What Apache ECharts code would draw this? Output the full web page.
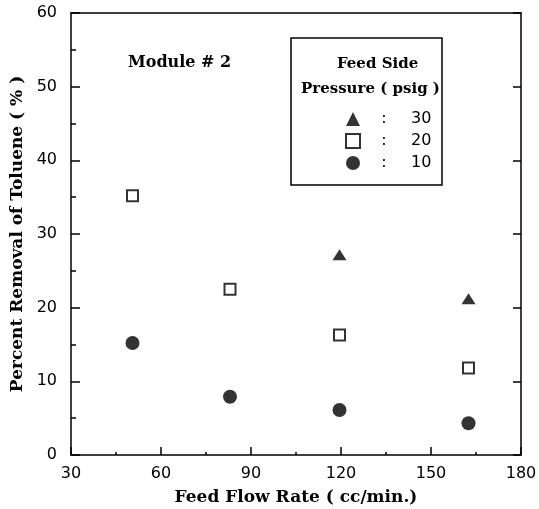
<!DOCTYPE html>
<html><head><meta charset="utf-8">
<script src="https://cdn.jsdelivr.net/npm/echarts@6/dist/echarts.min.js"></script>
<style>html,body{margin:0;padding:0;background:#fff}#c{width:539px;height:509px}</style>
</head><body><div id="c"></div>
<script>
const flowRates = [50.5, 83, 119.5, 162.5];
const removal10 = [15.2, 7.9, 6.1, 4.3];
const removal20 = [35.2, 22.5, 16.3, 11.8];
const flowRates30 = [119.5, 162.5];
const removal30 = [27.2, 21.2];
const pressureNames = ['30', '20', '10'];
const xTitle = 'Feed Flow Rate ( cc/min.)';
const yTitle = 'Percent Removal of Toluene ( % )';
const annotation = 'Module # 2';
const legendTitle = ['Feed Side', 'Pressure ( psig )'];

const pair = (xs, ys) => xs.map((x, i) => [x, ys[i]]);
const serifBold = {fontFamily: 'DejaVu Serif', fontWeight: 'bold', fontSize: 16, color: '#000'};
const serifBold15 = {...serifBold, fontSize: 15};
const sans = {fontFamily: 'DejaVu Sans', fontSize: 16, color: '#000'};
const line = {lineStyle: {color: '#000', width: 1.5}};

const chart = echarts.init(document.getElementById('c'), null, {renderer: 'canvas'});
chart.setOption({
  backgroundColor: '#fff',
  animation: false,
  grid: {left: 71, right: 18, top: 13, bottom: 54, outerBoundsMode: 'none', containLabel: false},
  xAxis: [{
    type: 'value', min: 30, max: 180, interval: 30,
    axisLine: {show: true, ...line},
    axisTick: {show: true, inside: true, length: 8, ...line},
    minorTick: {show: true, splitNumber: 2, length: 3, lineStyle: {color: '#000', width: 1.5}},
    splitLine: {show: false},
    axisLabel: {...sans, margin: 11},
    name: xTitle, nameLocation: 'middle', nameGap: 34,
    nameTextStyle: {...serifBold, fontSize: 17}
  }, {
    type: 'value', position: 'top', min: 30, max: 180, interval: 30,
    axisLine: {show: true, onZero: false, ...line},
    axisTick: {show: false}, minorTick: {show: false}, axisLabel: {show: false}, splitLine: {show: false}
  }],
  yAxis: [{
    type: 'value', min: 0, max: 60, interval: 10,
    axisLine: {show: true, onZero: false, ...line},
    axisTick: {show: true, inside: true, length: 9, ...line},
    minorTick: {show: true, splitNumber: 2, length: 5, lineStyle: {color: '#000', width: 1.5}},
    splitLine: {show: false},
    axisLabel: {...sans, margin: 14},
    name: yTitle, nameLocation: 'middle', nameGap: 42, nameRotate: 90,
    nameTextStyle: {...serifBold, fontSize: 17}
  }, {
    type: 'value', position: 'right', min: 0, max: 60, interval: 10,
    axisLine: {show: true, onZero: false, ...line},
    axisTick: {show: true, inside: true, length: 8, ...line},
    minorTick: {show: false},
    axisLabel: {show: false}, splitLine: {show: false}
  }],
  legend: {
    left: 340, top: 106, orient: 'vertical', padding: 5,
    itemWidth: 14, itemHeight: 14, itemGap: 6,
    data: [
      {name: pressureNames[0], icon: 'triangle', itemStyle: {color: '#000'}},
      {name: pressureNames[1], icon: 'rect', itemStyle: {color: '#fff', borderColor: '#000', borderWidth: 2}},
      {name: pressureNames[2], icon: 'circle', itemStyle: {color: '#000'}}
    ],
    formatter: n => '{c|:}{v|' + n + '}',
    textStyle: {
      rich: {
        c: {...sans, width: 38, align: 'center', lineHeight: 16},
        v: {...sans, padding: [0, 0, 0, 8], lineHeight: 16}
      }
    }
  },
  title: [
    {text: legendTitle[0], left: 332, top: 52, textStyle: serifBold15},
    {text: legendTitle[1], left: 296, top: 77, textStyle: serifBold15},
    {text: annotation, left: 123, top: 50, textStyle: serifBold}
  ],
  graphic: [{
    type: 'rect', shape: {x: 291, y: 38, width: 151, height: 147},
    style: {fill: 'none', stroke: '#000', lineWidth: 1.5}, z: 10
  }],
  series: [
    {name: pressureNames[0], type: 'scatter', symbol: 'triangle', symbolSize: [14, 11],
     itemStyle: {color: '#000'}, data: pair(flowRates30, removal30)},
    {name: pressureNames[1], type: 'scatter', symbol: 'rect', symbolSize: 11,
     itemStyle: {color: '#fff', borderColor: '#000', borderWidth: 2}, data: pair(flowRates, removal20)},
    {name: pressureNames[2], type: 'scatter', symbol: 'circle', symbolSize: 14,
     itemStyle: {color: '#000'}, data: pair(flowRates, removal10)}
  ]
});
</script></body></html>
